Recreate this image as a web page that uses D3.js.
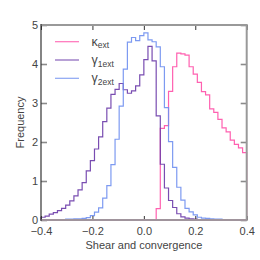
<!DOCTYPE html>
<html>
<head>
<meta charset="utf-8">
<script src="https://cdn.jsdelivr.net/npm/d3@7"></script>
<style>
  html, body { margin: 0; padding: 0; background: #fff; }
  text { font-family: "Liberation Sans", Arial, sans-serif; }
</style>
</head>
<body>
<svg id="chart" width="260" height="260"></svg>
<script>
// ---- data ----
const binStart = -0.4;
const binWidth = 0.016;
const binCount = 50;

const kappaExt = [0,0,0,0,0,0,0,0,0,0,
                  0,0,0,0,0,0,0,0,0,0,
                  0,0,0,0,0,0,0,0,0.29,2.35,
                  2.42,3.30,3.93,4.28,4.26,4.23,3.93,3.74,3.53,3.29,
                  3.21,2.85,2.76,2.58,2.36,2.26,2.05,1.94,1.85,1.73];
const gamma1Ext = [0.07,0.10,0.15,0.19,0.24,0.30,0.38,0.49,0.62,0.77,
                   0.96,1.26,1.52,1.82,2.13,2.52,2.87,3.22,3.35,3.50,
                   3.34,3.25,3.31,3.44,3.72,4.11,4.45,4.08,2.67,1.43,
                   0.82,0.50,0.32,0.16,0.08,0.05,0.03,0.02,0.01,0.01,
                   0,0,0,0,0,0,0,0,0,0];
const gamma2Ext = [0,0,0.01,0.01,0.01,0.01,0.02,0.02,0.03,0.03,
                   0.04,0.06,0.11,0.20,0.31,0.56,0.88,1.42,2.07,2.92,
                   3.87,4.56,4.68,4.60,4.73,4.80,4.62,4.57,4.44,3.93,
                   2.88,2.01,1.35,0.84,0.51,0.30,0.21,0.13,0.07,0.05,
                   0.04,0.03,0.02,0.02,0.01,0.01,0.01,0,0,0];

const seriesNames = ["κ", "γ", "γ"];
const seriesSubs = ["ext", "1ext", "2ext"];
const seriesColors = ["#ff4fa7", "#6a3aa8", "#6f8ff0"];

const xTicks = [-0.4, -0.2, 0.0, 0.2, 0.4];
const xTickLabels = ["−0.4", "−0.2", "0.0", "0.2", "0.4"];
const yTicks = [0, 1, 2, 3, 4, 5];
const yTickLabels = ["0", "1", "2", "3", "4", "5"];

// ---- layout ----
const svg = d3.select("#chart");
const L = 41, R = 246.7, T = 25, B = 220;

const x = d3.scaleLinear().domain([-0.4, 0.4]).range([L, R]);
const y = d3.scaleLinear().domain([0, 5]).range([B, T]);

const edges = d3.range(binCount + 1).map(i => binStart + i * binWidth);

function stepPoints(vals) {
  const pts = [[edges[0], 0]];
  vals.forEach((v, i) => { pts.push([edges[i], v]); });
  pts.push([edges[binCount], vals[binCount - 1]]);
  pts.push([edges[binCount], 0]);
  return pts;
}

const line = d3.line()
  .x(d => x(d[0]))
  .y(d => y(d[1]))
  .curve(d3.curveStepAfter);

const allSeries = [kappaExt, gamma1Ext, gamma2Ext];

svg.append("rect").attr("width", 260).attr("height", 260).attr("fill", "#fff");

// histogram step lines
svg.append("g").selectAll("path")
  .data(allSeries)
  .join("path")
  .attr("d", d => line(stepPoints(d)))
  .attr("fill", "none")
  .attr("stroke", (d, i) => seriesColors[i])
  .attr("stroke-width", 1.2)
  .attr("stroke-opacity", 0.9);

// left axis
const yAxis = d3.axisLeft(y).tickValues(yTicks)
  .tickFormat((d, i) => yTickLabels[i]).tickSize(-6).tickPadding(3);
const gy = svg.append("g").attr("transform", `translate(${L},0)`).call(yAxis);
gy.select(".domain").remove();
gy.selectAll(".tick line").attr("stroke", "#8a8a8a").attr("stroke-width", 1.6);
gy.selectAll(".tick text").attr("fill", "#444").attr("dy", "0.28em").style("font-size", "11px")
  .style("font-family", '"Liberation Sans", Arial, sans-serif');

// right ticks
const yAxisR = d3.axisRight(y).tickValues(yTicks).tickFormat("").tickSize(-6);
const gyr = svg.append("g").attr("transform", `translate(${R},0)`).call(yAxisR);
gyr.select(".domain").remove();
gyr.selectAll(".tick line").attr("stroke", "#8a8a8a").attr("stroke-width", 1.6);

// bottom axis
const xAxis = d3.axisBottom(x).tickValues(xTicks)
  .tickFormat((d, i) => xTickLabels[i]).tickSize(-4).tickPadding(7.5);
const gx = svg.append("g").attr("transform", `translate(0,${B})`).call(xAxis);
gx.select(".domain").remove();
gx.selectAll(".tick line").attr("stroke", "#333").attr("stroke-width", 1);
gx.selectAll(".tick text").attr("fill", "#444").style("font-size", "11px")
  .style("font-family", '"Liberation Sans", Arial, sans-serif');

// top ticks
const xAxisT = d3.axisTop(x).tickValues(xTicks).tickFormat("").tickSize(-5);
const gxt = svg.append("g").attr("transform", `translate(0,${T})`).call(xAxisT);
gxt.select(".domain").remove();
gxt.selectAll(".tick line").attr("stroke", "#333").attr("stroke-width", 1);

// spines
svg.append("line").attr("x1", L).attr("x2", R).attr("y1", T).attr("y2", T)
  .attr("stroke", "#999").attr("stroke-width", 2);
svg.append("line").attr("x1", R).attr("x2", R).attr("y1", T - 1).attr("y2", B + 1)
  .attr("stroke", "#999").attr("stroke-width", 2);
svg.append("line").attr("x1", L).attr("x2", R).attr("y1", B).attr("y2", B)
  .attr("stroke", "#a0949c").attr("stroke-width", 2);
svg.append("line").attr("x1", L).attr("x2", L).attr("y1", T - 1).attr("y2", B + 1)
  .attr("stroke", "#333").attr("stroke-width", 1.2);

// axis labels
svg.append("text").attr("x", (L + R) / 2).attr("y", 249)
  .attr("text-anchor", "middle").attr("fill", "#444").style("font-size", "11px")
  .text("Shear and convergence");
svg.append("text").attr("transform", `translate(23.5,${(T + B) / 2}) rotate(-90)`)
  .attr("text-anchor", "middle").attr("fill", "#444").style("font-size", "11px")
  .text("Frequency");

// legend
const legendY = [41.7, 60, 78.3];
const lg = svg.append("g");
seriesNames.forEach((name, i) => {
  lg.append("line").attr("x1", 55).attr("x2", 79)
    .attr("y1", legendY[i]).attr("y2", legendY[i])
    .attr("stroke", seriesColors[i]).attr("stroke-width", 1.2).attr("stroke-opacity", 0.8);
  const t = lg.append("text").attr("x", 91.5).attr("y", legendY[i] + 4)
    .attr("fill", "#444").style("font-size", "12.5px");
  t.append("tspan").text(name);
  t.append("tspan").attr("dy", 2.5).style("font-size", "8.5px").text(seriesSubs[i]);
});
</script>
</body>
</html>
